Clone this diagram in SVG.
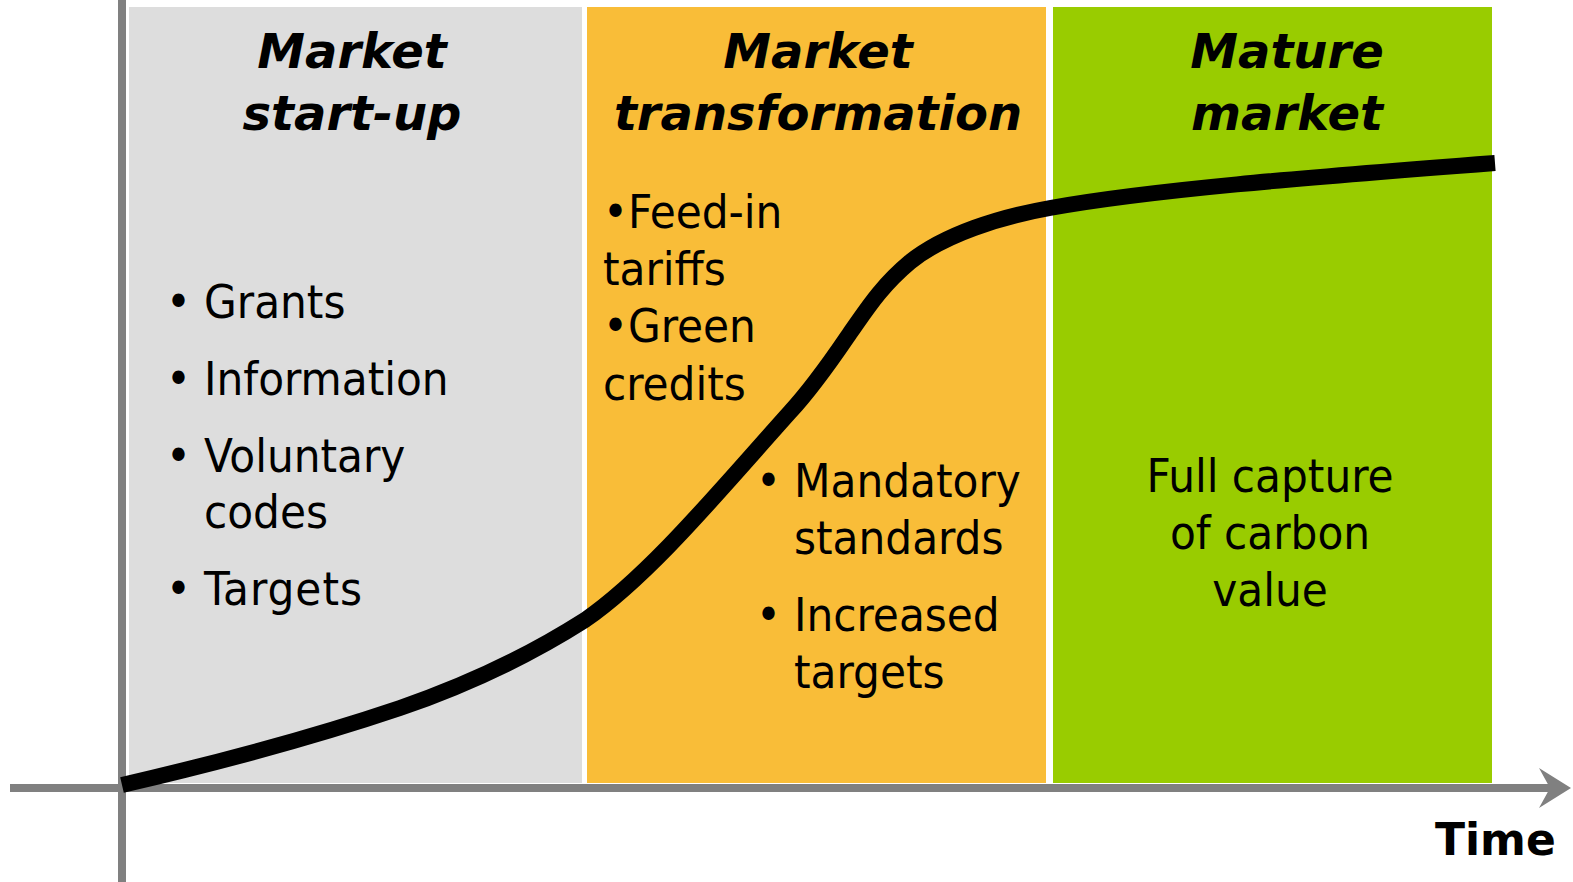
<svg xmlns="http://www.w3.org/2000/svg" width="1573" height="882" viewBox="0 0 1573 882">
<style>
.title{font-family:"DejaVu Sans",Verdana,sans-serif;font-weight:bold;font-style:italic;font-size:48px;fill:#000;text-anchor:middle}
.body{font-family:"DejaVu Sans Condensed","DejaVu Sans",sans-serif;font-size:47px;fill:#000}
.mid{text-anchor:middle}
.axis{stroke:#808080;stroke-width:8;fill:none}
</style>
<rect width="1573" height="882" fill="#fff"/>
<g id="panel-startup">
<rect x="129" y="7" width="453" height="776" fill="#dddddd"/>
<text class="title" x="352" y="68">Market</text>
<text class="title" x="352" y="130">start-up</text>
<text class="body" x="166" y="318">•</text><text class="body" x="204" y="318">Grants</text>
<text class="body" x="166" y="395">•</text><text class="body" x="204" y="395">Information</text>
<text class="body" x="166" y="472">•</text><text class="body" x="204" y="472">Voluntary</text>
<text class="body" x="204" y="528">codes</text>
<text class="body" x="166" y="605">•</text><text class="body" x="204" y="605" textLength="158">Targets</text>
</g>
<g id="panel-transformation">
<rect x="587" y="7" width="459" height="776" fill="#f9bd38"/>
<text class="title" x="818" y="68">Market</text>
<text class="title" x="818" y="130">transformation</text>
<text class="body" x="603" y="228">•Feed-in</text>
<text class="body" x="603" y="285">tariffs</text>
<text class="body" x="603" y="342">•Green</text>
<text class="body" x="603" y="400">credits</text>
<text class="body" x="756" y="497">•</text><text class="body" x="794" y="497">Mandatory</text>
<text class="body" x="794" y="554">standards</text>
<text class="body" x="756" y="631">•</text><text class="body" x="794" y="631">Increased</text>
<text class="body" x="794" y="688">targets</text>
</g>
<g id="panel-mature">
<rect x="1053" y="7" width="439" height="776" fill="#99cc00"/>
<text class="title" x="1287" y="68">Mature</text>
<text class="title" x="1287" y="130">market</text>
<text class="body mid" x="1270" y="492">Full capture</text>
<text class="body mid" x="1270" y="549">of carbon</text>
<text class="body mid" x="1270" y="606">value</text>
</g>
<g id="connectors">
<line class="axis" x1="122" y1="0" x2="122" y2="882"/>
<line class="axis" x1="10" y1="788" x2="1552" y2="788" stroke-width="7"/>
<polygon points="1539,768 1571,788 1539,808 1550,788" fill="#808080"/>
<path d="M122,785 C230,760 320,735 400,708 C470,684 530,655 585,620 C650,575 720,490 790,412 C815,385 835,355 850,333 C865,312 880,287 910,262 C945,234 1000,217 1050,208 C1150,190 1300,178 1495,163" fill="none" stroke="#000" stroke-width="16"/>
</g>
<text x="1435" y="855" style="font-family:'DejaVu Sans',Verdana,sans-serif;font-weight:bold;font-size:44px;fill:#000">Time</text>
</svg>
